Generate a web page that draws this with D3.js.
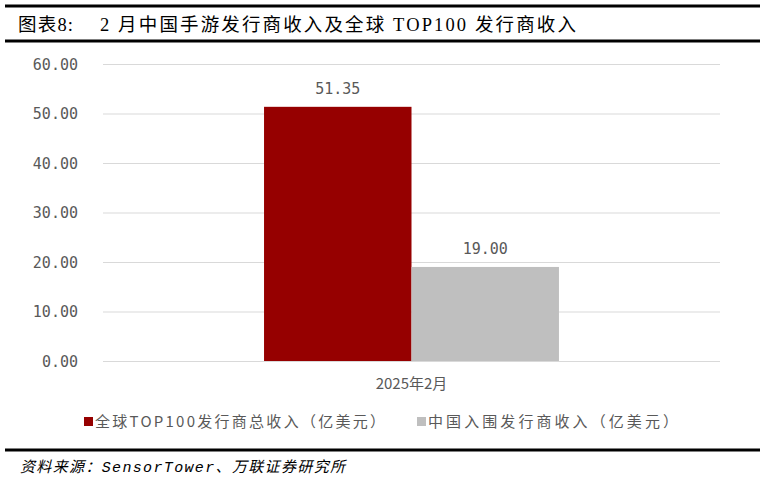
<!DOCTYPE html>
<html><head><meta charset="utf-8">
<script src="https://cdn.jsdelivr.net/npm/d3@7"></script>
<style>body{margin:0;background:#fff}svg{display:block}</style>
</head><body>
<svg id="c" width="765" height="481"></svg>
<script>
const categories = ["2025年2月"];
const seriesNames = ["全球TOP100发行商总收入（亿美元）", "中国入围发行商收入（亿美元）"];
const seriesValues = [[51.35], [19.00]];
const yTicks = [0, 10, 20, 30, 40, 50, 60];
const colors = ["#960000", "#bfbfbf"];

const svg = d3.select("#c");
// frame lines
[[6,3],[41,3],[450,3]].forEach(([y,w])=>{
  svg.append("line").attr("x1",5).attr("x2",760).attr("y1",y).attr("y2",y)
    .attr("stroke","#000").attr("stroke-width",w);
});
// title
const t = svg.append("text").attr("y",31).attr("font-size",18.5).attr("fill","#000")
  .attr("font-family","'Liberation Serif','Noto Sans CJK SC',serif");
t.append("tspan").attr("x",18).attr("textLength",55).attr("lengthAdjust","spacing").text("图表8:");
t.append("tspan").attr("x",100).attr("textLength",476).attr("lengthAdjust","spacing").text("2 月中国手游发行商收入及全球 TOP100 发行商收入");

const x0 = d3.scaleBand().domain(categories).range([103, 720]).paddingInner(0).paddingOuter(0.546);
const x1 = d3.scaleBand().domain(seriesNames).range([0, x0.bandwidth()]).padding(0);
const y = d3.scaleLinear().domain([0, 60]).range([361, 64]);

// grid
svg.append("g").selectAll("line").data(yTicks).join("line")
  .attr("x1",103).attr("x2",720).attr("y1",d=>y(d)+0.5).attr("y2",d=>y(d)+0.5)
  .attr("stroke","#d9d9d9").attr("stroke-width",1);
// y labels
const yAxis = d3.axisLeft(y).tickValues(yTicks).tickFormat(d3.format(".2f")).tickSize(0).tickPadding(0);
const ga = svg.append("g").attr("transform","translate(78,0)").call(yAxis);
ga.select(".domain").remove();
ga.selectAll("text").attr("font-family","'DejaVu Sans Mono',monospace").attr("font-size",15).attr("fill","#595959").attr("dy","0.35em");

// bars
categories.forEach((c,ci)=>{
  seriesNames.forEach((s,si)=>{
    const v = seriesValues[si][ci];
    const bx = x0(c)+x1(s);
    svg.append("rect").attr("x",bx).attr("y",y(v)).attr("width",x1.bandwidth()).attr("height",y(0)-y(v))
      .attr("fill",colors[si]);
    svg.append("text").attr("x",bx+x1.bandwidth()/2).attr("y",y(v)-13).attr("text-anchor","middle")
      .attr("font-family","'DejaVu Sans Mono',monospace").attr("font-size",15).attr("fill","#595959")
      .text(d3.format(".2f")(v));
  });
  svg.append("text").attr("x",x0(c)+x0.bandwidth()/2).attr("y",389).attr("text-anchor","middle")
    .attr("font-family","'Noto Sans CJK SC',sans-serif").attr("font-size",15).attr("fill","#595959").text(c);
});

// legend
const legX = [84, 417];
const legLen = [290, 250];
seriesNames.forEach((s,i)=>{
  svg.append("rect").attr("x",legX[i]).attr("y",417).attr("width",9).attr("height",9).attr("fill",colors[i]);
  svg.append("text").attr("x",legX[i]+11).attr("y",427).attr("font-size",15)
    .attr("textLength",legLen[i]).attr("lengthAdjust","spacing")
    .attr("font-family","'Noto Sans CJK SC',sans-serif").attr("fill","#595959").text(s);
});

// source
svg.append("text").attr("x",20).attr("y",472).attr("font-size",15).attr("font-style","italic")
  .attr("textLength",325).attr("lengthAdjust","spacing")
  .attr("font-family","'Liberation Mono','Noto Sans CJK SC',monospace").attr("fill","#000")
  .text("资料来源：SensorTower、万联证券研究所");
</script>
</body></html>
